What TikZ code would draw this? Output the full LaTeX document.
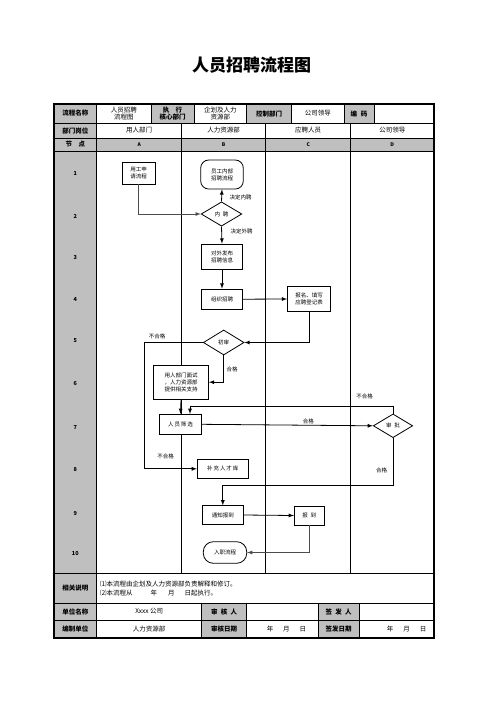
\documentclass[tikz,border=0pt]{standalone}
\usepackage{fontspec}
\setmainfont{Noto Sans CJK SC}
\usetikzlibrary{shapes.geometric}
\begin{document}
\begin{tikzpicture}[
  x=1pt, y=-1pt,
  every node/.style={font=\fontsize{5.5}{7}\selectfont, inner sep=0pt, align=center},
  >=latex,
  box/.style={draw, line width=0.8pt, fill=white},
  term/.style={box, rounded corners=8pt},
  decision/.style={box, diamond, aspect=1.6},
  flow/.style={->, line width=0.8pt},
  cell/.style={font=\fontsize{6.5}{7.8}\selectfont},
  hdr/.style={font=\bfseries\fontsize{6.5}{7.8}\selectfont},
  shade/.style={fill=gray!50},
  grid/.style={line width=0.7pt}
]
  \useasboundingbox (0,0) rectangle (496,702);

  % Title
  \node[font=\bfseries\fontsize{17}{20}\selectfont] (title) at (251.5,65) {人员招聘流程图};

  % Shaded cells
  \fill[shade] (54,104) rectangle (96.7,638);
  \fill[shade] (151,104) rectangle (194,123);
  \fill[shade] (246.7,104) rectangle (291.7,123);
  \fill[shade] (344,104) rectangle (374,123);
  \fill[shade] (96.7,138) rectangle (434,151);
  \fill[shade] (201.7,603) rectangle (246.7,638);
  \fill[shade] (318,603) rectangle (359,638);

  % Grid lines
  \foreach \y in {123,138,151,573,603,620}
    \draw[grid] (54,\y) -- (434,\y);
  \draw[grid] (96.7,104) -- (96.7,638);
  \foreach \x in {151,194,246.7,291.7,344,374}
    \draw[grid] (\x,104) -- (\x,123);
  \foreach \x in {181.7,265.7,350.7}
    \draw[grid] (\x,123) -- (\x,573);
  \foreach \x in {201.7,246.7,318,359}
    \draw[grid] (\x,603) -- (\x,638);
  \draw[line width=1.1pt] (54,104) rectangle (434,638);

  % Header rows
  \node[hdr] (procname) at (75.3,113.5) {流程名称};
  \node[cell] (procval) at (123.8,113.5) {人员招聘\\流程图};
  \node[hdr] (execdept) at (172.5,113.5) {执\hspace{1em}行\\核心部门};
  \node[cell] (execval) at (220.3,113.5) {企划及人力\\资源部};
  \node[hdr] (ctrldept) at (269.2,113.5) {控制部门};
  \node[cell] (ctrlval) at (317.8,113.5) {公司领导};
  \node[hdr] (code) at (359,113.5) {编\hspace{0.6em}码};

  \node[hdr] (post) at (75.3,130.5) {部门岗位};
  \node[cell] (postA) at (139.2,130.5) {用人部门};
  \node[cell] (postB) at (223.7,130.5) {人力资源部};
  \node[cell] (postC) at (308.2,130.5) {应聘人员};
  \node[cell] (postD) at (392.3,130.5) {公司领导};

  \node[hdr] (step) at (75.3,144.5) {节\hspace{1em}点};
  \foreach \c/\x in {A/139.2, B/223.7, C/308.2, D/392.3}
    \node[font=\bfseries\fontsize{5}{6}\selectfont] (col\c) at (\x,144.5) {\c};

  % Row numbers
  \foreach \n/\y in {1/173, 2/216, 3/257, 4/299, 5/341, 6/383, 7/427, 8/469, 9/513, 10/553}
    \node[font=\bfseries\fontsize{5.5}{6}\selectfont] (row\n) at (75.3,\y) {\n};

  % Flow boxes
  \node[box, minimum width=33pt, minimum height=22pt] (apply) at (138.5,173) {用工申\\请流程};
  \node[term, minimum width=42.6pt, minimum height=29pt] (internal) at (222,174.5) {员工内部\\招聘流程};
  \node[decision, minimum width=40.7pt, minimum height=24.3pt] (inner) at (221.5,214) {内\hspace{0.5em}聘};
  \node[box, minimum width=40.4pt, minimum height=25.3pt] (publish) at (222,256.7) {对外发布\\招聘信息};
  \node[box, minimum width=40.4pt, minimum height=20.3pt] (organize) at (222,299.2) {组织招聘};
  \node[box, minimum width=43pt, minimum height=25.7pt] (signup) at (309,299) {报名、填写\\应聘登记表};
  \node[decision, minimum width=40.7pt, minimum height=25pt] (screen) at (223.7,342.5) {初审};
  \node[box, minimum width=55pt, minimum height=34.3pt] (interview) at (181,382.2) {用人部门面试\\，人力资源部\\提供相关支持};
  \node[box, minimum width=41.7pt, minimum height=20pt] (filter) at (180.5,424.3) {人\,员\,筛\,选};
  \node[decision, minimum width=39.4pt, minimum height=23.7pt] (approve) at (393,425.8) {审\hspace{0.5em}批};
  \node[box, minimum width=51pt, minimum height=19pt] (pool) at (222.8,468.8) {补\,充\,人\,才\,库};
  \node[box, minimum width=41pt, minimum height=18.6pt] (notify) at (222.8,515) {通知报到};
  \node[box, minimum width=30pt, minimum height=19pt] (report) at (309.3,515.5) {报\hspace{0.5em}到};
  \node[term, rounded corners=10pt, minimum width=43.4pt, minimum height=21.6pt] (onboard) at (225,552.5) {入职流程};

  % Turning points
  \coordinate (fail) at (144,342.5);
  \coordinate (back) at (190,406);
  \coordinate (pass) at (222.8,485);

  % Connectors
  \draw[flow, gray!60!black] (apply.south) |- (inner.west);
  \draw[flow] (inner.north) -- (internal.south);
  \draw[flow] (inner.south) -- (publish.north);
  \draw[flow] (publish.south) -- (organize.north);
  \draw[flow] (organize.east) -- (signup.west);
  \draw[flow] (signup.south) |- (screen.east);
  \draw[flow] (screen.west) -- (fail) |- (pool.west);
  \draw[flow] (screen.south) |- (interview.east);
  \draw[flow] (interview.south) -- (filter.north);
  \draw[flow] (approve.north) |- (back) -- (back |- filter.north);
  \draw[flow] (filter.east) -- (approve.west);
  \draw[flow] (approve.south) |- (pass) -- (notify.north);
  \draw[flow] (notify.east) -- (report.west);
  \draw[flow, gray!60!black] (report.south) |- (onboard.east);

  % Labels
  \node (lin) at (240.5,197.7) {决定内聘};
  \node (lout) at (241.7,231) {决定外聘};
  \node (lfail1) at (157,336) {不合格};
  \node (lpass1) at (232,369.3) {合格};
  \node (lfail2) at (364.7,396.7) {不合格};
  \node (lpass2) at (308.3,421.7) {合格};
  \node (lfail3) at (165.5,456.7) {不合格};
  \node (lpass3) at (381.7,470) {合格};

  % Notes and sign-off rows
  \node[hdr] (note) at (75.3,588) {相关说明};
  \node[cell, anchor=west, align=left, font=\fontsize{6.5}{9.3}\selectfont] (notetext) at (100,588.5)
    {⑴本流程由企划及人力资源部负责解释和修订。\\⑵本流程从\hspace{18pt}年\hspace{11pt}月\hspace{10pt}日起执行。};
  \node[hdr] (unit) at (75.3,611.5) {单位名称};
  \node[cell] (unitval) at (149.2,611.5) {Xxxx 公司};
  \node[hdr] (checker) at (224.2,611.5) {审\hspace{0.5em}核\hspace{0.5em}人};
  \node[hdr] (issuer) at (338.5,611.5) {签\hspace{0.5em}发\hspace{0.5em}人};
  \node[hdr] (maker) at (75.3,629) {编制单位};
  \node[cell] (makerval) at (149.2,629) {人力资源部};
  \node[hdr] (checkdate) at (224.2,629) {审核日期};
  \node[cell] (checkdateval) at (286.5,629) {年\hspace{10pt}月\hspace{10pt}日};
  \node[hdr] (issuedate) at (338.5,629) {签发日期};
  \node[cell] (issuedateval) at (406.7,629) {年\hspace{10pt}月\hspace{10pt}日};
\end{tikzpicture}
\end{document}
